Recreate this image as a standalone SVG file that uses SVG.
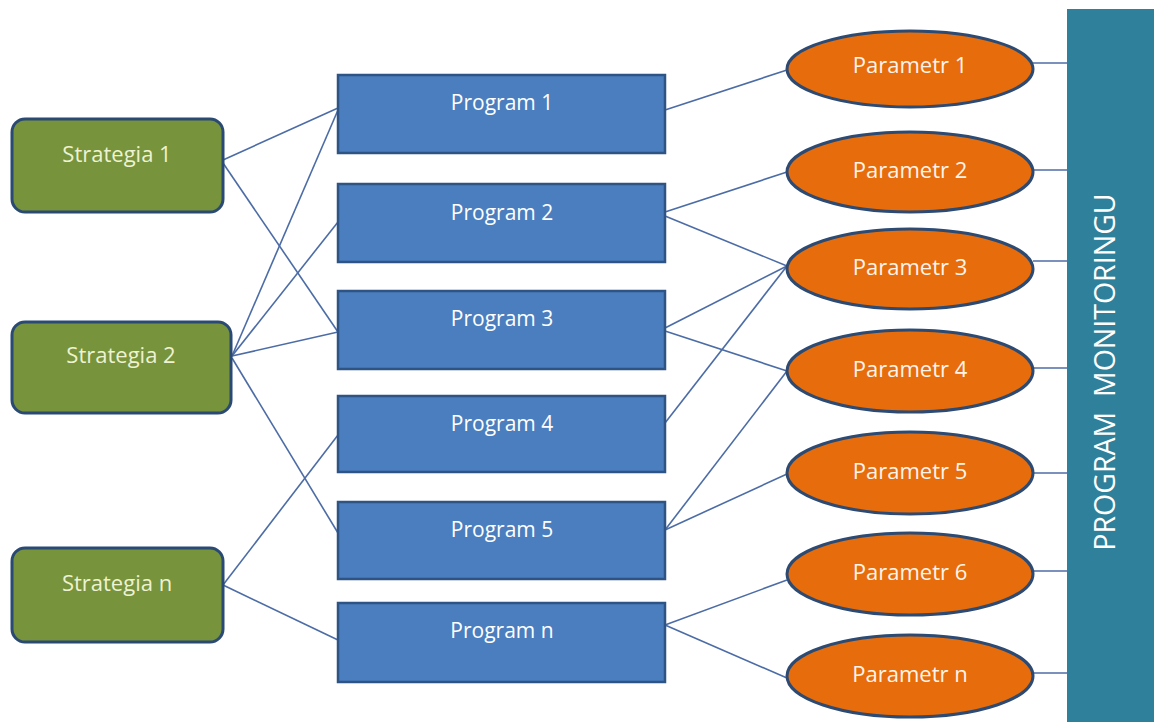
<svg xmlns="http://www.w3.org/2000/svg" width="1154" height="722" viewBox="0 0 1154 722">
<style>
.strat{fill:#77933C;stroke:#2B4A73;stroke-width:3}
.prog{fill:#4A7EBE;stroke:#2E5385;stroke-width:2.5}
.par{fill:#E66C0C;stroke:#2C4A72;stroke-width:3}
.bar{fill:#2F809A}
.lbl{font-family:"Open Sans","Noto Sans",sans-serif;font-size:21px;fill:#FFFFFF;text-anchor:middle}
.slbl{fill:#EEF2D2;font-size:22px}
.plbl{font-size:22px;fill:#FFF4EA}
.btxt{font-family:"Open Sans","Noto Sans",sans-serif;font-size:28.5px;fill:#FFFFFF;text-anchor:middle}
#connectors line{stroke:#4C6CA6;stroke-width:1.6}
</style>
<rect width="1154" height="722" fill="#FFFFFF"/>
<g id="connectors">
<line x1="223" y1="160" x2="338" y2="108"/>
<line x1="223" y1="163" x2="338" y2="332"/>
<line x1="232" y1="356" x2="338" y2="110"/>
<line x1="232" y1="356" x2="338" y2="222"/>
<line x1="232" y1="356" x2="338" y2="332"/>
<line x1="232" y1="358" x2="338" y2="533"/>
<line x1="223" y1="585" x2="338" y2="435"/>
<line x1="223" y1="585" x2="338" y2="640"/>
<line x1="665" y1="110" x2="787" y2="70"/>
<line x1="665" y1="212" x2="787" y2="172"/>
<line x1="665" y1="216" x2="787" y2="266"/>
<line x1="665" y1="328" x2="787" y2="266"/>
<line x1="665" y1="331" x2="787" y2="371"/>
<line x1="665" y1="423" x2="787" y2="266"/>
<line x1="665" y1="530" x2="787" y2="371"/>
<line x1="665" y1="530" x2="787" y2="474"/>
<line x1="665" y1="625" x2="787" y2="580"/>
<line x1="665" y1="625" x2="787" y2="678"/>
<line x1="1033" y1="63" x2="1067" y2="63"/>
<line x1="1033" y1="170" x2="1067" y2="170"/>
<line x1="1033" y1="261" x2="1067" y2="261"/>
<line x1="1033" y1="368" x2="1067" y2="368"/>
<line x1="1033" y1="473" x2="1067" y2="473"/>
<line x1="1033" y1="571" x2="1067" y2="571"/>
<line x1="1033" y1="673" x2="1067" y2="673"/>
</g>
<g id="strategia-1"><rect class="strat" x="12" y="119" width="211" height="93" rx="13"/><text class="lbl slbl" x="117" y="162">Strategia 1</text></g>
<g id="strategia-2"><rect class="strat" x="12" y="322" width="219" height="91" rx="13"/><text class="lbl slbl" x="121" y="363">Strategia 2</text></g>
<g id="strategia-n"><rect class="strat" x="12" y="548" width="211" height="94" rx="13"/><text class="lbl slbl" x="117" y="591">Strategia n</text></g>
<g id="program-1"><rect class="prog" x="338" y="75" width="327" height="78"/><text class="lbl" x="502" y="110">Program 1</text></g>
<g id="program-2"><rect class="prog" x="338" y="184" width="327" height="78"/><text class="lbl" x="502" y="220">Program 2</text></g>
<g id="program-3"><rect class="prog" x="338" y="291" width="327" height="78"/><text class="lbl" x="502" y="326">Program 3</text></g>
<g id="program-4"><rect class="prog" x="338" y="396" width="327" height="76"/><text class="lbl" x="502" y="431">Program 4</text></g>
<g id="program-5"><rect class="prog" x="338" y="502" width="327" height="77"/><text class="lbl" x="502" y="537">Program 5</text></g>
<g id="program-n"><rect class="prog" x="338" y="603" width="327" height="79"/><text class="lbl" x="502" y="638">Program n</text></g>
<g id="parametr-1"><ellipse class="par" cx="910" cy="69" rx="123" ry="38"/><text class="lbl plbl" x="910" y="73">Parametr 1</text></g>
<g id="parametr-2"><ellipse class="par" cx="910" cy="172" rx="123" ry="40"/><text class="lbl plbl" x="910" y="178">Parametr 2</text></g>
<g id="parametr-3"><ellipse class="par" cx="910" cy="269" rx="123" ry="40"/><text class="lbl plbl" x="910" y="275">Parametr 3</text></g>
<g id="parametr-4"><ellipse class="par" cx="910" cy="371" rx="123" ry="41"/><text class="lbl plbl" x="910" y="377">Parametr 4</text></g>
<g id="parametr-5"><ellipse class="par" cx="910" cy="473" rx="123" ry="41"/><text class="lbl plbl" x="910" y="479">Parametr 5</text></g>
<g id="parametr-6"><ellipse class="par" cx="910" cy="574" rx="123" ry="41"/><text class="lbl plbl" x="910" y="580">Parametr 6</text></g>
<g id="parametr-n"><ellipse class="par" cx="910" cy="676" rx="123" ry="41"/><text class="lbl plbl" x="910" y="682">Parametr n</text></g>
<g id="program-monitoringu"><rect class="bar" x="1067" y="9" width="87" height="713"/><text class="btxt" transform="translate(1115,372) rotate(-90)" x="0" y="0" xml:space="preserve">PROGRAM  MONITORINGU</text></g>
</svg>
